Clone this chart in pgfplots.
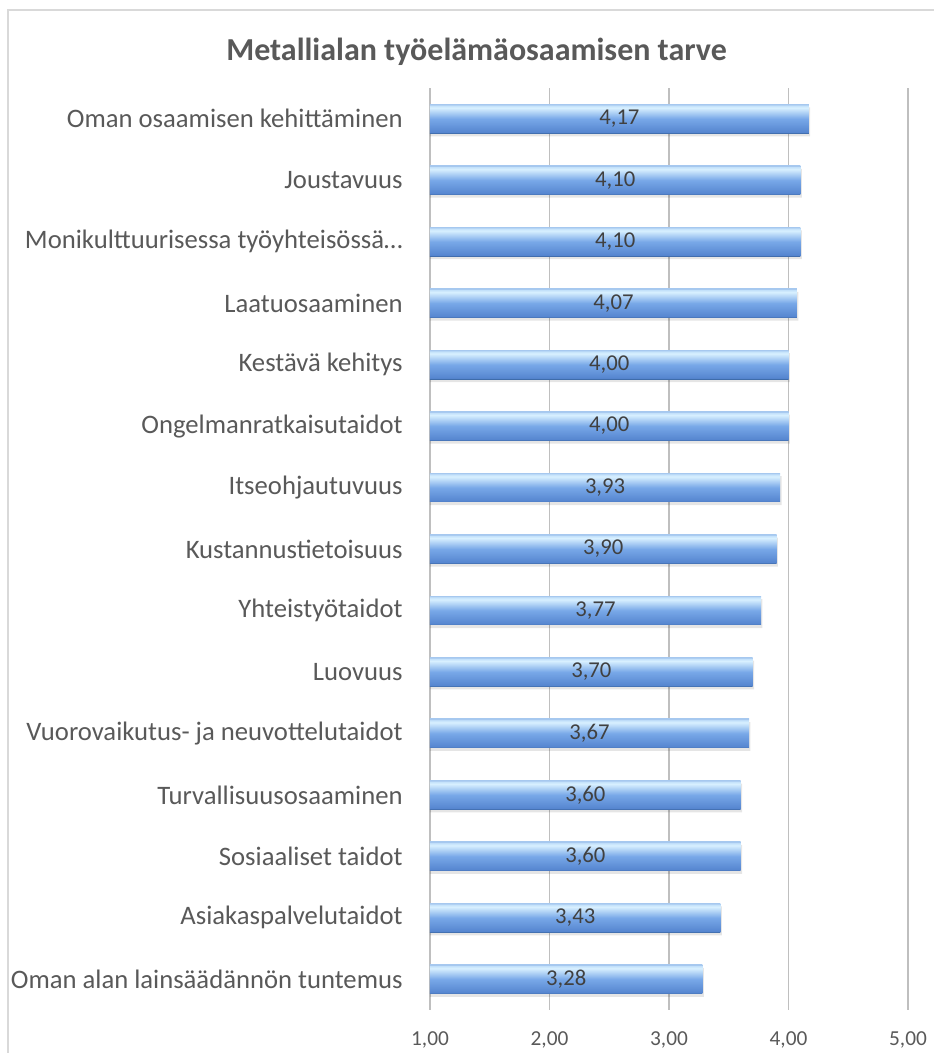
\documentclass[border=0pt]{standalone}
\usepackage{pgfplots}
\pgfplotsset{compat=1.18}
\usepackage{pgfplotstable}
\usepackage{fontspec}
\setmainfont{Carlito}
\definecolor{txt}{HTML}{595959}
\definecolor{lbl}{HTML}{404040}
\definecolor{grid}{HTML}{D9D9D9}
\definecolor{bdark}{HTML}{3E6AA8}
\definecolor{bbot}{HTML}{5686D0}
\definecolor{bmid}{HTML}{78A8E8}
\definecolor{bwhite}{HTML}{D8F0FF}
\definecolor{blight}{HTML}{C2E0FA}
\definecolor{bedgeT}{HTML}{A6C8EF}
\pgfdeclareverticalshading{barshade}{100bp}{color(0bp)=(bdark); color(25bp)=(bdark); color(27bp)=(bbot); color(50bp)=(bmid); color(69bp)=(bwhite); color(73bp)=(blight); color(74.5bp)=(bedgeT); color(100bp)=(bedgeT)}
\pgfplotstableread{
idx val
0 4.17
1 4.10
2 4.10
3 4.07
4 4.00
5 4.00
6 3.93
7 3.90
8 3.77
9 3.70
10 3.67
11 3.60
12 3.60
13 3.43
14 3.28
}\datatable
\begin{document}
\begin{tikzpicture}
\useasboundingbox (0,0) rectangle (699.75pt,-789.75pt);
\draw[grid, line width=1.1pt] (6pt,-7.5pt) rectangle (712pt,-805pt);
\node[font=\fontsize{24}{28}\selectfont\bfseries, text=txt] at (357.4pt,-39pt) {Metallialan työelämäosaamisen tarve};
\begin{axis}[
  at={(322.5pt,-757.5pt)}, anchor=south west,
  scale only axis, width=358.5pt, height=691.5pt,
  xmin=0, xmax=4, ymin=-0.5, ymax=14.5, y dir=reverse,
  xtick={0,1,2,3,4},
  xticklabels={{1,00},{2,00},{3,00},{4,00},{5,00}},
  ytick={0,...,14},
  yticklabels={Oman osaamisen kehittäminen, Joustavuus, Monikulttuurisessa työyhteisössä…, Laatuosaaminen, Kestävä kehitys, Ongelmanratkaisutaidot, Itseohjautuvuus, Kustannustietoisuus, Yhteistyötaidot, Luovuus, Vuorovaikutus- ja neuvottelutaidot, Turvallisuusosaaminen, Sosiaaliset taidot, Asiakaspalvelutaidot, Oman alan lainsäädännön tuntemus},
  axis line style={draw=none},
  major tick style={draw=none},
  xmajorgrids, ymajorgrids=false, major grid style={grid, line width=1pt},
  xticklabel style={font=\fontsize{16}{18}\selectfont, text=txt, yshift=-13pt},
  yticklabel style={font=\fontsize{20}{24}\selectfont, text=txt, xshift=-17pt},
  clip=false,
]
% soft shadow below the bars
\addplot[xbar, bar shift=0.05, bar width=0.47, draw=none, fill=black, fill opacity=0.10]
  table[x expr=\thisrow{val}-1+0.012, y=idx] {\datatable};
\pgfplotsinvokeforeach{0,...,14}{
\addplot[xbar, bar shift=0pt, bar width=0.47, draw=none, shading=barshade]
  table[x expr=\thisrow{val}-1, y=idx, restrict expr to domain={\thisrow{idx}}{#1:#1}] {\datatable};
}
\addplot[draw=none, mark=none, nodes near coords, point meta=explicit,
  every node near coord/.style={anchor=center, font=\fontsize{17}{20}\selectfont, text=lbl,
  /pgf/number format/.cd, fixed, fixed zerofill, precision=2, use comma, assume math mode=true}]
  table[x expr=(\thisrow{val}-1)/2, y=idx, meta=val] {\datatable};
\end{axis}
\end{tikzpicture}
\end{document}
